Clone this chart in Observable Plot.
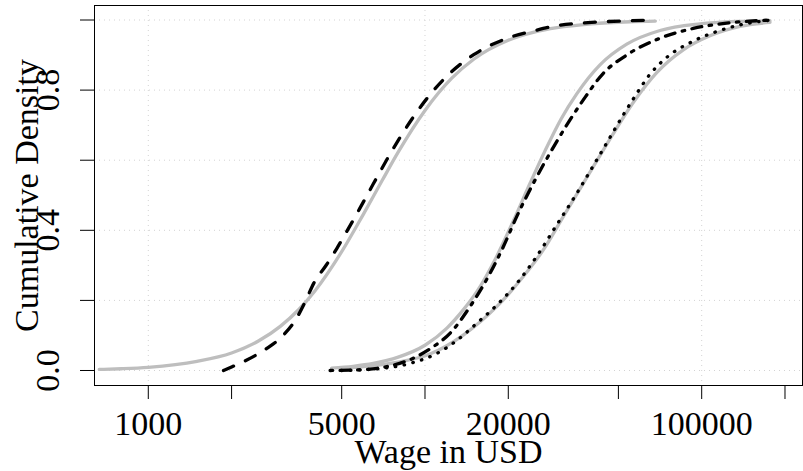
<!DOCTYPE html>
<html>
<head>
<meta charset="utf-8">
<script src="https://cdn.jsdelivr.net/npm/d3@7"></script>
<script src="https://cdn.jsdelivr.net/npm/@observablehq/plot@0.6"></script>
<style>
  html, body { margin: 0; padding: 0; background: #fff; }
  #chart { width: 803px; height: 471px; overflow: hidden; }
</style>
</head>
<body>
<div id="chart"></div>
<script>
// Axis ticks, labels and grid positions
const xTicks = [1000, 2000, 5000, 10000, 20000, 50000, 100000, 200000];
const xTickLabels = [1000, 5000, 20000, 100000];
const xGrid = [1000, 10000, 100000];
const yTicks = [0, 0.2, 0.4, 0.6, 0.8, 1.0];
const yTickLabels = [0, 0.4, 0.8];

// Fitted distribution, lowest wage group (grey)
const fitLowWage = [665, 800, 1000, 1500, 2000, 2500, 3000, 3500, 4000, 5000, 6000, 7000, 8000, 10000, 12500, 15000, 20000, 25000, 30000, 40000, 55000, 68000];
const fitLowCdf  = [0.003, 0.005, 0.009, 0.026, 0.050, 0.084, 0.126, 0.174, 0.227, 0.339, 0.447, 0.542, 0.623, 0.742, 0.834, 0.888, 0.942, 0.966, 0.978, 0.989, 0.995, 0.997];

// Observed distribution, lowest wage group (dashed)
const obsLowWage = [1870, 2000, 2270, 2680, 3070, 3440, 3690, 3970, 4400, 4800, 5200, 5800, 6500, 7600, 9000, 10500, 12500, 15000, 20000, 25000, 30000, 40000, 55000, 68000];
const obsLowCdf  = [0.0, 0.010, 0.030, 0.063, 0.100, 0.150, 0.196, 0.250, 0.301, 0.348, 0.395, 0.461, 0.532, 0.627, 0.719, 0.790, 0.853, 0.901, 0.949, 0.970, 0.984, 0.993, 0.998, 1.0];

// Fitted distribution, middle group (grey)
const fitMidWage = [4600, 5500, 6500, 8000, 10000, 12000, 13750, 15400, 18200, 20900, 24000, 27200, 31000, 35400, 42900, 53600, 70700, 98600, 134000, 176500];
const fitMidCdf  = [0.007, 0.012, 0.020, 0.038, 0.072, 0.121, 0.173, 0.225, 0.327, 0.428, 0.535, 0.628, 0.717, 0.790, 0.872, 0.931, 0.970, 0.989, 0.996, 0.998];

// Observed distribution, middle group (dash-dot)
const obsMidWage = [4540, 5820, 7270, 9070, 10720, 12310, 14540, 17170, 19190, 21450, 24630, 28710, 37340, 44100, 53560, 70680, 93270, 123100, 179100];
const obsMidCdf  = [0.0, 0.002, 0.011, 0.035, 0.068, 0.106, 0.182, 0.277, 0.353, 0.439, 0.534, 0.629, 0.772, 0.848, 0.900, 0.948, 0.976, 0.991, 1.0];

// Fitted distribution, highest group (grey)
const fitHighWage = [5000, 6000, 8000, 10420, 13750, 18160, 22660, 26770, 31610, 37340, 44100, 57420, 68790, 85820, 107100, 137500, 176500];
const fitHighCdf  = [0.006, 0.011, 0.024, 0.047, 0.101, 0.182, 0.268, 0.344, 0.439, 0.534, 0.629, 0.772, 0.850, 0.915, 0.955, 0.982, 0.993];

// Observed distribution, highest group (dotted)
const obsHighWage = [4990, 7000, 9000, 11000, 13000, 15400, 18200, 21500, 25300, 29900, 35400, 41700, 56600, 65000, 74700, 93300, 113300, 137500, 179100];
const obsHighCdf  = [0.0, 0.006, 0.022, 0.048, 0.085, 0.135, 0.187, 0.249, 0.325, 0.415, 0.506, 0.600, 0.775, 0.845, 0.893, 0.940, 0.967, 0.986, 1.0];

const toRows = (wages, cdf) => wages.map((w, i) => ({wage: w, p: cdf[i]}));
const isLabelled = (list, d) => list.some(v => Math.abs(v - d) <= 1e-6 * Math.max(1, Math.abs(v)));

const grey = "#bebebe";
const lineW = 3.3;
const serif = "'Liberation Serif', 'Times New Roman', serif";

const fitted = [toRows(fitLowWage, fitLowCdf), toRows(fitMidWage, fitMidCdf), toRows(fitHighWage, fitHighCdf)];
const observed = [
  {rows: toRows(obsLowWage, obsLowCdf), dash: "11,13"},
  {rows: toRows(obsMidWage, obsMidCdf), dash: "2.5,7.5,10,7.5"},
  {rows: toRows(obsHighWage, obsHighCdf), dash: "0.5,8.5"}
];

const chart = Plot.plot({
  width: 803,
  height: 471,
  marginLeft: 94,
  marginRight: 1,
  marginTop: 5,
  marginBottom: 86,
  style: {fontFamily: serif, fontSize: "34px", background: "#fff", color: "#000"},
  x: {type: "log", domain: [639.2, 231370], label: null},
  y: {domain: [-0.0428, 1.0414], label: null},
  marks: [
    Plot.ruleX(xGrid, {stroke: "#d3d3d3", strokeWidth: 1, strokeDasharray: "1,4"}),
    Plot.ruleY(yTicks, {stroke: "#d3d3d3", strokeWidth: 1, strokeDasharray: "1,4"}),
    ...fitted.map(rows => Plot.line(rows, {
      x: "wage", y: "p", curve: "monotone-x",
      stroke: grey, strokeWidth: lineW, strokeLinecap: "round", strokeLinejoin: "round"
    })),
    ...observed.map(s => Plot.line(s.rows, {
      x: "wage", y: "p", curve: "monotone-x",
      stroke: "#000", strokeWidth: lineW, strokeDasharray: s.dash,
      strokeLinecap: "round", strokeLinejoin: "round"
    })),
    // x axis: tick marks at every tick, numbers only where they fit
    Plot.axisX({
      ticks: xTicks, tickSize: 14, label: null, tickFormat: () => "",
      stroke: "#000"
    }),
    Plot.text(xTickLabels, {
      x: d => d, text: d => String(d), frameAnchor: "bottom", dy: 25,
      lineAnchor: "top", textAnchor: "middle",
      fontSize: 34, fontFamily: serif, fill: "#000"
    }),
    // y axis: ticks every 0.2, rotated numbers at 0.0, 0.4, 0.8
    Plot.axisY({
      ticks: yTicks, tickSize: 14, tickPadding: 22, tickRotate: -90, label: null,
      tickFormat: d => isLabelled(yTickLabels, d) ? d.toFixed(1) : "",
      fontSize: 34, fontFamily: serif, stroke: "#000", fill: "#000"
    }),
    Plot.frame({stroke: "#000", strokeWidth: 1}),
    Plot.text(["Wage in USD"], {
      frameAnchor: "bottom", dy: 77, lineAnchor: "bottom", textAnchor: "middle",
      fontSize: 34, fontFamily: serif, fill: "#000"
    }),
    Plot.text(["Cumulative Density"], {
      frameAnchor: "left", dx: -56.5, rotate: -90, lineAnchor: "bottom", textAnchor: "middle",
      fontSize: 34, fontFamily: serif, fill: "#000"
    })
  ]
});

document.getElementById("chart").appendChild(chart);
</script>
</body>
</html>
